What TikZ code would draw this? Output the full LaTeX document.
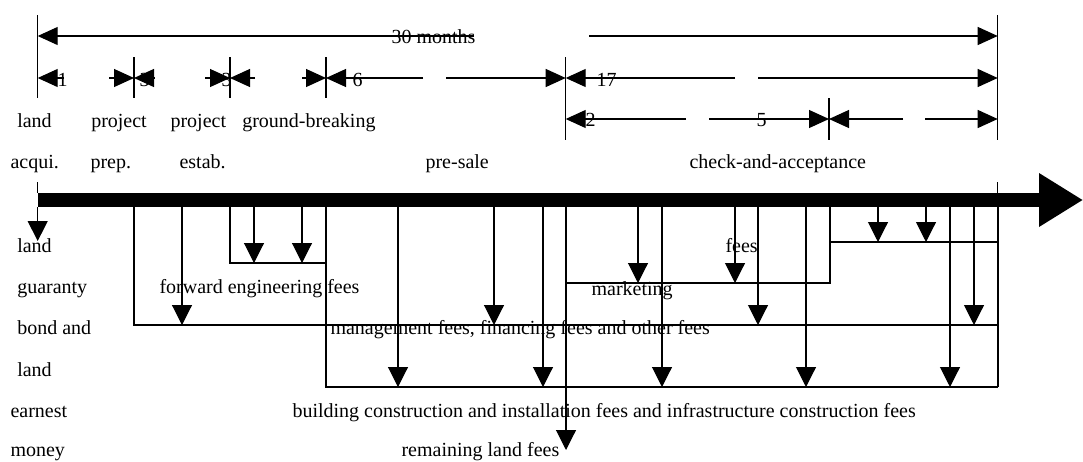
\documentclass[tikz,border=0pt]{standalone}
\usepackage{fontspec}
\setmainfont{Liberation Serif}
\usetikzlibrary{arrows.meta}
\begin{document}
\begin{tikzpicture}[x=1pt,y=-1pt,line width=1.1pt,line cap=butt,
  lbl/.style={font=\fontsize{20}{24}\selectfont,inner sep=0pt,anchor=base west},
  dimtip/.style={-{Triangle[length=20pt,width=18pt]}},
  downtip/.style={-{Triangle[length=20pt,width=20pt]}}]
\useasboundingbox (0,0) rectangle (1083,461);

% ---- extension lines ----
\coordinate (L0) at (37.7,15);  \coordinate (L1) at (37.7,98);
\coordinate (L2) at (37.7,182); \coordinate (L3) at (37.7,193);
\coordinate (R0) at (997.7,15); \coordinate (R1) at (997.7,140);
\coordinate (R2) at (997.7,182);\coordinate (R3) at (997.7,193);
\draw (L0) -- (L1); \draw (L2) -- (L3);
\draw (R0) -- (R1); \draw (R2) -- (R3);
\foreach \x in {134,230,326} {
  \coordinate (vt\x) at (\x,57); \coordinate (vb\x) at (\x,98);
  \draw (vt\x) -- (vb\x);
}
\coordinate (vt566) at (565.7,57); \coordinate (vb566) at (565.7,140);
\draw (vt566) -- (vb566);
\coordinate (vt829) at (829,98); \coordinate (vb829) at (829,140);
\draw (vt829) -- (vb829);

% ---- row 1: 30 months ----
\coordinate (a1) at (474,36);  \coordinate (a1t) at (37.7,36);
\coordinate (a2) at (589,36);  \coordinate (a2t) at (997.7,36);
\draw[dimtip] (a1) -- (a1t);
\draw[dimtip] (a2) -- (a2t);
\node[lbl] (m30) at (391,43) {30 months};

% ---- row 2 ----
\foreach \s/\t [count=\i] in {64/37.7, 109/134, 154/134, 205/230, 255/230,
    302/326, 423/326, 446/565.7, 735/565.7, 758/997.7} {
  \coordinate (r2s\i) at (\s,78); \coordinate (r2t\i) at (\t,78);
  \draw[dimtip] (r2s\i) -- (r2t\i);
}
\node[lbl] (n1)  at (57,86)  {1};
\node[lbl] (n3a) at (139,86) {3};
\node[lbl] (n3b) at (221,86) {3};
\node[lbl] (n6)  at (352,86) {6};
\node[lbl] (n17) at (596,86) {17};

% ---- row 3 ----
\foreach \s/\t [count=\i] in {686/565.7, 709/829, 903/829, 925/997.7} {
  \coordinate (r3s\i) at (\s,119); \coordinate (r3t\i) at (\t,119);
  \draw[dimtip] (r3s\i) -- (r3t\i);
}
\node[lbl] (n2) at (585,126) {2};
\node[lbl] (n5) at (756,126) {5};

% ---- phase labels ----
\node[lbl] (p1a) at (16.7,127) {land};
\node[lbl] (p1b) at (10,168.5) {acqui.};
\node[lbl] (p2a) at (90.7,127) {project};
\node[lbl] (p2b) at (90,168.5) {prep.};
\node[lbl] (p3a) at (170,127) {project};
\node[lbl] (p3b) at (179,168.5) {estab.};
\node[lbl] (p4a) at (241.7,127) {ground-breaking};
\node[lbl] (p5)  at (425,168.5) {pre-sale};
\node[lbl] (p6)  at (689,168.5) {check-and-acceptance};

% ---- time bar ----
\coordinate (bs) at (37.7,200);
\coordinate (be) at (1041,200);
\fill (37.7,193) rectangle (1041,207);
\fill (1039,173) -- (1082.5,200) -- (1039,227) -- cycle;

% ---- brackets ----
\coordinate (k134) at (134,207);  \coordinate (h325) at (998,325);
\coordinate (k230) at (230,207);  \coordinate (h263) at (326,263);
\coordinate (k326) at (326,207);  \coordinate (h387) at (998,387);
\coordinate (k998) at (998,207);
\coordinate (k566) at (566,207);  \coordinate (e566) at (566,450);
\coordinate (m566) at (566,283);  \coordinate (k830) at (830,207);
\coordinate (f830) at (830,242);  \coordinate (f998) at (998,242);
\draw (k134) |- (h325);
\draw (k230) |- (h263);
\draw (k326) |- (h387);
\draw (k998) -- (h387);
\draw (m566) -| (k830);
\draw (f830) -- (f998);
\draw[downtip] (k566) -- (e566);

% ---- arrows from the bar ----
\foreach \x/\y [count=\i] in {37.7/241, 182/325, 494/325, 758/325, 974/325,
    254/263, 302/263, 398/387, 543/387, 662/387, 806/387, 950/387,
    638/283, 735/283, 878/242, 926/242} {
  \coordinate (as\i) at (\x,207); \coordinate (ae\i) at (\x,\y);
  \draw[downtip] (as\i) -- (ae\i);
}

% ---- cost labels ----
\node[lbl] (c1) at (16.7,252) {land};
\node[lbl] (c2) at (16.7,293) {guaranty};
\node[lbl] (c3) at (16.7,334) {bond and};
\node[lbl] (c4) at (16.7,376) {land};
\node[lbl] (c5) at (10,417) {earnest};
\node[lbl] (c6) at (10,456) {money};
\node[lbl] (fw) at (159,293) {forward engineering fees};
\node[lbl] (mg) at (330,334) {management fees, financing fees and other fees};
\node[lbl] (bc) at (292,417) {building construction and installation fees and infrastructure construction fees};
\node[lbl] (rl) at (401,456) {remaining land fees};
\node[lbl] (mk) at (591,295) {marketing};
\node[lbl] (fe) at (725,252) {fees};
\end{tikzpicture}
\end{document}
